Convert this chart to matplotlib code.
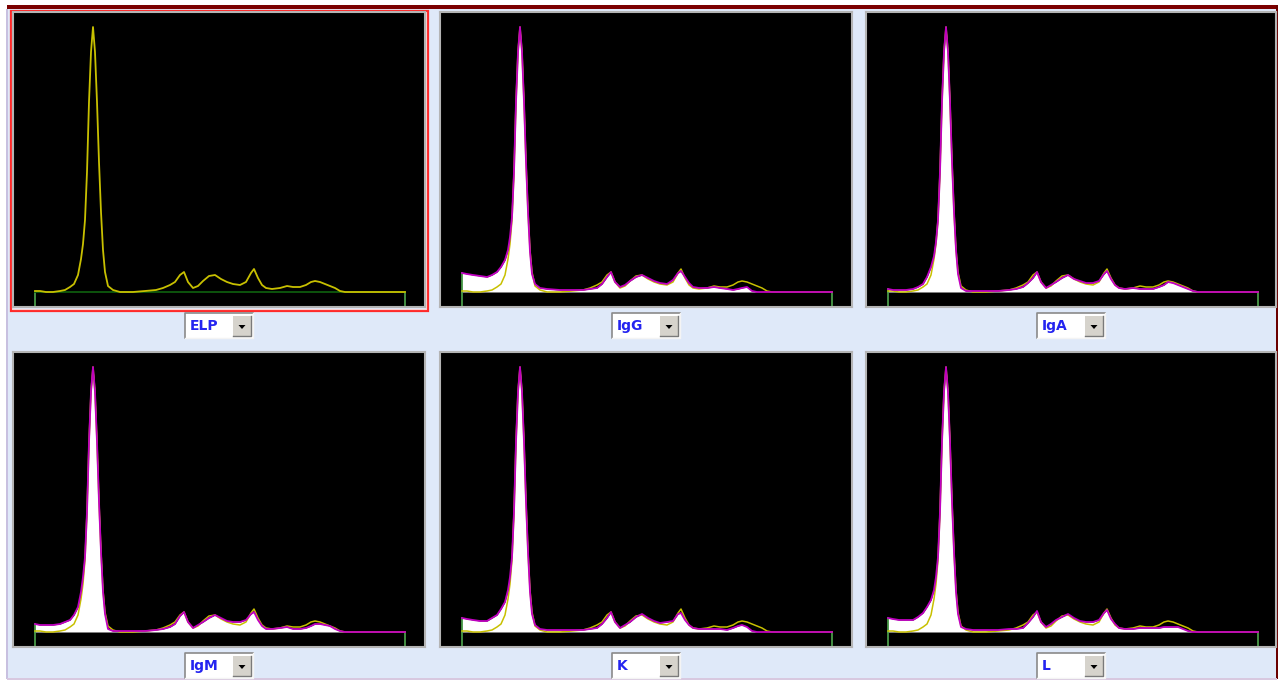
import matplotlib
matplotlib.use("Agg")
import matplotlib.pyplot as plt
from matplotlib.patches import Rectangle, Polygon

# migration distance along the gel (same grid for every trace)
position = [0, 5, 11, 18, 25, 30, 35, 39, 43, 46,
            48, 50, 52, 54, 56, 58, 60, 62, 64, 66,
            68, 70, 73, 78, 85, 98, 110, 121, 128, 135,
            140, 145, 149, 153, 158, 163, 168, 174, 180, 186,
            192, 198, 205, 211, 216, 219, 223, 227, 231, 237,
            245, 252, 258, 265, 271, 276, 280, 285, 290, 295,
            300, 305, 310, 320, 370]

# reference electrophoresis trace (ELP)
elp = [1, 1, 0, 0, 1, 2, 5, 8, 17, 33,
       48, 72, 120, 190, 240, 265, 240, 190, 130, 80,
       42, 20, 6, 2, 0, 0, 1, 2, 4, 7,
       10, 17, 20, 10, 4, 6, 11, 16, 17, 13,
       10, 8, 7, 10, 19, 23, 14, 7, 4, 3,
       4, 6, 5, 5, 7, 10, 11, 10, 8, 6,
       4, 1, 0, 0, 0]

# immunofixation traces
igg = [19, 18, 17, 16, 15, 17, 20, 25, 32, 42,
       55, 75, 120, 190, 240, 265, 240, 190, 130, 80,
       40, 18, 8, 4, 3, 2, 2, 2, 3, 4,
       8, 15, 20, 10, 5, 7, 11, 15, 17, 14,
       11, 9, 8, 12, 19, 21, 15, 9, 5, 4,
       4, 5, 4, 3, 2, 3, 4, 5, 1, 0,
       0, 0, 0, 0, 0]
iga = [3, 2, 2, 2, 3, 5, 8, 15, 25, 36,
       50, 72, 120, 190, 240, 265, 240, 190, 130, 80,
       42, 18, 4, 1, 1, 1, 1, 2, 3, 5,
       9, 14, 20, 10, 4, 7, 10, 14, 17, 13,
       11, 9, 9, 11, 18, 21, 13, 7, 4, 3,
       4, 3, 3, 3, 5, 7, 10, 9, 7, 5,
       3, 1, 0, 0, 0]
igm = [8, 7, 7, 7, 8, 10, 12, 17, 25, 40,
       55, 75, 120, 190, 240, 265, 240, 190, 130, 80,
       40, 18, 3, 1, 1, 1, 1, 2, 3, 5,
       8, 16, 20, 10, 4, 7, 10, 14, 17, 14,
       11, 10, 10, 12, 18, 20, 12, 6, 3, 3,
       4, 5, 3, 3, 4, 6, 8, 8, 7, 6,
       3, 1, 0, 0, 0]
kappa = [14, 13, 12, 11, 11, 14, 17, 23, 30, 42,
         55, 75, 120, 190, 240, 265, 240, 190, 130, 80,
         40, 18, 7, 3, 2, 2, 2, 2, 3, 4,
         8, 14, 20, 10, 4, 7, 10, 15, 18, 14,
         11, 9, 10, 11, 18, 19, 12, 7, 4, 3,
         3, 3, 3, 2, 4, 6, 7, 5, 1, 0,
         0, 0, 0, 0, 0]
lam = [14, 13, 12, 12, 12, 15, 19, 25, 32, 42,
       55, 75, 120, 190, 240, 265, 240, 190, 130, 80,
       40, 18, 5, 3, 2, 2, 2, 3, 3, 4,
       9, 15, 21, 10, 5, 8, 12, 15, 18, 14,
       11, 10, 10, 12, 19, 22, 13, 8, 4, 3,
       3, 4, 4, 4, 4, 5, 5, 5, 5, 3,
       1, 0, 0, 0, 0]

labels = ["ELP", "IgG", "IgA", "IgM", "K", "L"]
traces = [None, igg, iga, igm, kappa, lam]

W, H = 1282, 681
BG = "#dfe9f9"
YELLOW = "#c8c000"
MAGENTA = "#c000c0"
GREEN = "#4fa84f"

fig = plt.figure(figsize=(W / 100, H / 100), dpi=100)
fig.patch.set_facecolor("white")

# window chrome drawn in pixel coordinates
bg = fig.add_axes([0, 0, 1, 1])
bg.set_xlim(0, W)
bg.set_ylim(H, 0)
bg.axis("off")
bg.add_patch(Rectangle((7, 9), 1270, 670, color=BG, lw=0))
bg.add_patch(Rectangle((7, 5), 1271, 4, color="#7b0000", lw=0))
bg.add_patch(Rectangle((1276, 5), 2, 674, color="#6b0000", lw=0))
bg.add_patch(Rectangle((6, 9), 1.5, 670, color="#c8c0e0", lw=0))
bg.add_patch(Rectangle((7, 678), 1270, 1.5, color="#d8c8e0", lw=0))
# selected panel
bg.add_patch(Rectangle((10.5, 10.5), 417, 300.5, fill=False, ec="#ff2a2a", lw=1.6))
bg.add_patch(Rectangle((12, 11.5), 414, 297, fill=False, ec="#f8d0d0", lw=0.8))

col_x = [13, 440, 866]
col_w = [412, 412, 410]
row_y = [12, 352]
panel_h = 295


def draw_combo(cx, top, text):
    left = cx - 34
    bg.add_patch(Rectangle((left, top), 68, 25, color="white", lw=0))
    bg.plot([left, left, left + 68], [top + 25, top, top], color="#8a8a8a", lw=1.2)
    bg.plot([left, left + 68, left + 68], [top + 25, top + 25, top], color="#f4f4f4", lw=1.0)
    # drop-down button
    bx, by = left + 48, top + 3
    bg.add_patch(Rectangle((bx, by), 18, 20, color="#d6d3cc", lw=0))
    bg.plot([bx, bx + 18, bx + 18], [by + 20, by + 20, by], color="#7a7a7a", lw=1.0)
    bg.add_patch(Polygon([(bx + 5.5, by + 9), (bx + 12.5, by + 9), (bx + 9, by + 13)],
                         closed=True, color="black", lw=0))
    bg.text(left + 5, top + 13, text, color="#2424f0", fontsize=10,
            fontweight="bold", ha="left", va="center")


for i, name in enumerate(labels):
    r, c = divmod(i, 3)
    x0, w, y0 = col_x[c], col_w[c], row_y[r]
    ax = fig.add_axes([x0 / W, 1 - (y0 + panel_h) / H, w / W, panel_h / H])
    ax.set_facecolor("black")
    ax.set_xlim(-22, w - 22)
    ax.set_ylim(-15, panel_h - 15)
    ax.set_xticks([])
    ax.set_yticks([])
    for s in ax.spines.values():
        s.set_color("#b4b4b4")
        s.set_linewidth(1.5)

    # baseline bracket
    ax.plot([0, 0], [-15, 0], color=GREEN, lw=1.2)
    ax.plot([370, 370], [-15, 0], color=GREEN, lw=1.2)

    if traces[i] is None:
        ax.plot([0, 370], [0, 0], color="#0e5a0e", lw=1.3)
        ax.plot(position, elp, color=YELLOW, lw=1.3)
    else:
        ax.plot([0, 0], [0, traces[i][0]], color=GREEN, lw=1.2)
        ax.fill_between(position, 0, traces[i], color="white", lw=0)
        ax.plot(position, elp, color=YELLOW, lw=1.1)
        ax.plot(position, traces[i], color=MAGENTA, lw=1.3)

    draw_combo(x0 + w / 2, y0 + 301, name)

fig.savefig("out.png", dpi=100, facecolor=fig.get_facecolor())
